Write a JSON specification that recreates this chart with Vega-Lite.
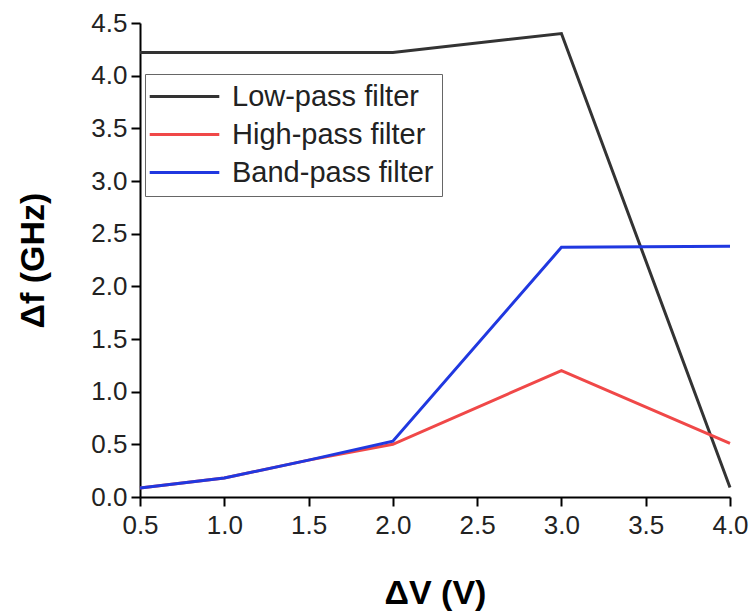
{
  "$schema": "https://vega.github.io/schema/vega-lite/v6.json",
  "autosize": "none",
  "width": 590,
  "height": 474,
  "padding": {"left": 140, "top": 23, "right": 24, "bottom": 114},
  "background": "white",
  "config": {
    "font": "Liberation Sans",
    "view": {"stroke": null},
    "axis": {"grid": false, "domainColor": "black", "domainWidth": 2, "tickColor": "black", "tickWidth": 2, "tickSize": 9, "labelFontSize": 26, "labelColor": "#222", "titleFontSize": 34, "titleFontWeight": "bold", "titleColor": "black", "labelFont": "Liberation Sans", "titleFont": "Liberation Sans"}
  },
  "data": {"values": [
    {"dv": 0.5, "df": 4.22, "s": "Low-pass filter"},
    {"dv": 1.0, "df": 4.22, "s": "Low-pass filter"},
    {"dv": 1.5, "df": 4.22, "s": "Low-pass filter"},
    {"dv": 2.0, "df": 4.22, "s": "Low-pass filter"},
    {"dv": 3.0, "df": 4.40, "s": "Low-pass filter"},
    {"dv": 4.0, "df": 0.09, "s": "Low-pass filter"},
    {"dv": 0.5, "df": 0.085, "s": "High-pass filter"},
    {"dv": 1.0, "df": 0.18, "s": "High-pass filter"},
    {"dv": 1.5, "df": 0.35, "s": "High-pass filter"},
    {"dv": 2.0, "df": 0.50, "s": "High-pass filter"},
    {"dv": 3.0, "df": 1.20, "s": "High-pass filter"},
    {"dv": 4.0, "df": 0.51, "s": "High-pass filter"},
    {"dv": 0.5, "df": 0.085, "s": "Band-pass filter"},
    {"dv": 1.0, "df": 0.18, "s": "Band-pass filter"},
    {"dv": 1.5, "df": 0.35, "s": "Band-pass filter"},
    {"dv": 2.0, "df": 0.53, "s": "Band-pass filter"},
    {"dv": 3.0, "df": 2.37, "s": "Band-pass filter"},
    {"dv": 4.0, "df": 2.38, "s": "Band-pass filter"}
  ]},
  "mark": {"type": "line", "strokeWidth": 3, "clip": false},
  "encoding": {
    "x": {"field": "dv", "type": "quantitative", "title": "ΔV (V)",
      "scale": {"domain": [0.5, 4.0], "nice": false, "zero": false},
      "axis": {"values": [0.5, 1.0, 1.5, 2.0, 2.5, 3.0, 3.5, 4.0], "format": ".1f", "labelPadding": 6, "titlePadding": 38, "labelFlush": false}},
    "y": {"field": "df", "type": "quantitative", "title": "Δf (GHz)",
      "scale": {"domain": [0, 4.5], "nice": false},
      "axis": {"values": [0, 0.5, 1.0, 1.5, 2.0, 2.5, 3.0, 3.5, 4.0, 4.5], "format": ".1f", "labelPadding": 4, "titlePadding": 40, "labelFlush": false}},
    "color": {"field": "s", "type": "nominal", "sort": ["Low-pass filter", "High-pass filter", "Band-pass filter"],
      "scale": {"domain": ["Low-pass filter", "High-pass filter", "Band-pass filter"], "range": ["#333333", "#f04848", "#2038e0"]},
      "legend": {"title": null, "orient": "none", "legendX": 5, "legendY": 51, "strokeColor": "#666", "padding": 8, "symbolType": "M-2.9,0H2.9", "symbolSize": 576, "symbolStrokeWidth": 3, "symbolFillColor": "transparent", "symbolOffset": 17, "labelFontSize": 29, "labelColor": "#222", "rowPadding": 8, "labelOffset": 33, "labelLimit": 400, "fillColor": "white"}}
  }
}
